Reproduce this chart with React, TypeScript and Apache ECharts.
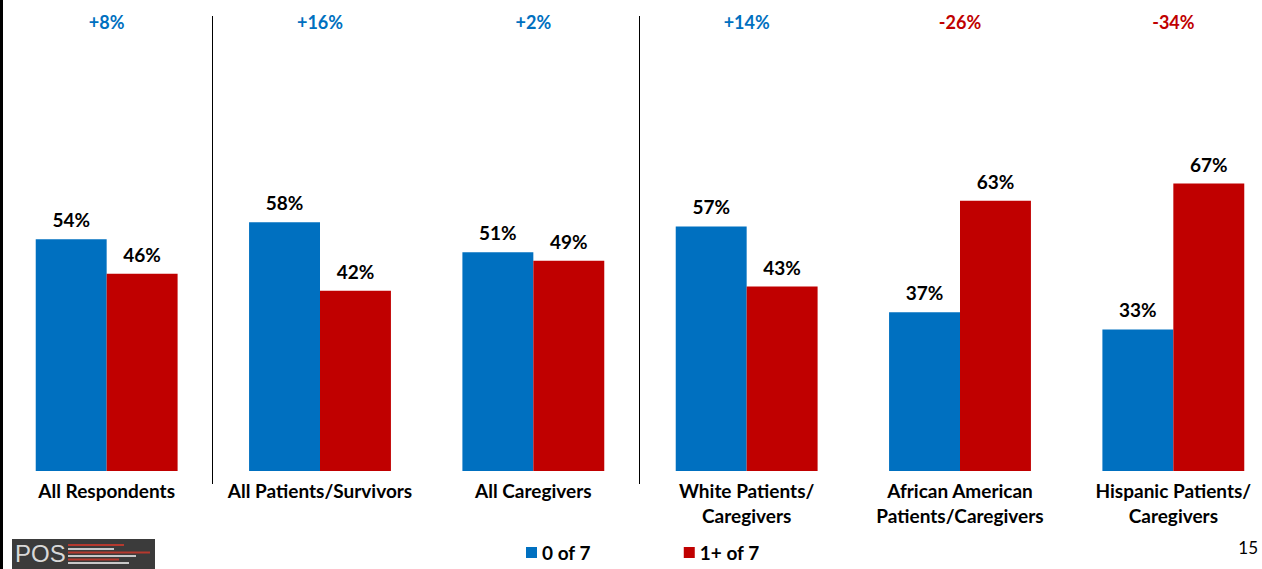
import React, { useEffect, useRef } from "react";
import * as echarts from "echarts";

const categories = [
  "All Respondents",
  "All Patients/Survivors",
  "All Caregivers",
  "White Patients/\nCaregivers",
  "African American\nPatients/Caregivers",
  "Hispanic Patients/\nCaregivers",
];
const zeroOf7 = [54, 58, 51, 57, 37, 33];
const onePlusOf7 = [46, 42, 49, 43, 63, 67];
const differences = ["+8%", "+16%", "+2%", "+14%", "-26%", "-34%"];
const dividerAfter = [0, 2];
const seriesNames = ["0 of 7", "1+ of 7"];
const pageNumber = "15";

const BLUE = "#0070C0";
const RED = "#C00000";
const FONT = "Lato, 'Noto Sans', sans-serif";

export default function App() {
  const ref = useRef<HTMLDivElement>(null);
  useEffect(() => {
    const chart = echarts.init(ref.current!, null, { renderer: "svg" });
    const labelStyle = {
      show: true,
      position: "top" as const,
      distance: 10,
      formatter: "{c}%",
      fontFamily: FONT,
      fontWeight: "bold" as const,
      fontSize: 19,
      color: "#000",
    };
    chart.setOption({
      animation: false,
      textStyle: { fontFamily: FONT },
      grid: { left: 0, top: 42, width: 1280, height: 429, containLabel: false },
      legend: {
        left: 521,
        top: 538,
        itemWidth: 11,
        itemHeight: 11,
        itemGap: 93,
        icon: "rect",
        textStyle: { fontFamily: FONT, fontWeight: "bold", fontSize: 19, color: "#000" },
        data: seriesNames,
      },
      xAxis: [
        {
          type: "category",
          data: categories,
          axisLine: { show: false },
          axisTick: { show: false },
          axisLabel: {
            interval: 0,
            margin: 7,
            fontFamily: FONT,
            fontWeight: "bold",
            fontSize: 19,
            color: "#000",
            lineHeight: 25,
          },
        },
        {
          type: "category",
          position: "top",
          data: differences,
          axisLine: { show: false },
          axisTick: { show: false },
          axisLabel: {
            interval: 0,
            margin: 11,
            fontFamily: FONT,
            fontWeight: "bold",
            fontSize: 18,
            formatter: (v: string) => (v.startsWith("-") ? `{neg|${v}}` : `{pos|${v}}`),
            rich: {
              pos: { color: BLUE, fontFamily: FONT, fontWeight: "bold", fontSize: 18 },
              neg: { color: RED, fontFamily: FONT, fontWeight: "bold", fontSize: 18 },
            },
          },
        },
      ],
      yAxis: { type: "value", min: 0, max: 100, show: false, splitLine: { show: false } },
      series: [
        {
          name: seriesNames[0],
          type: "bar",
          data: zeroOf7,
          itemStyle: { color: BLUE },
          barGap: "0%",
          barCategoryGap: "33.5%",
          label: labelStyle,
        },
        {
          name: seriesNames[1],
          type: "bar",
          data: onePlusOf7,
          itemStyle: { color: RED },
          barGap: "0%",
          barCategoryGap: "33.5%",
          label: labelStyle,
        },
      ],
    });

    const c0 = chart.convertToPixel({ xAxisIndex: 0 }, categories[0]) as number;
    const c1 = chart.convertToPixel({ xAxisIndex: 0 }, categories[1]) as number;
    const band = c1 - c0;
    const dividers = dividerAfter.map((i) => {
      const x = Math.round((chart.convertToPixel({ xAxisIndex: 0 }, categories[i]) as number) + band / 2) - 0.5;
      return { type: "line", shape: { x1: x, y1: 16, x2: x, y2: 484 }, style: { stroke: "#000", lineWidth: 1 } };
    });

    const logoLines = [
      { y: 545, x2: 124, c: "#b5392e" },
      { y: 549, x2: 114, c: "#c8c8c8" },
      { y: 552.5, x2: 150, c: "#b5392e" },
      { y: 556, x2: 136, c: "#c8c8c8" },
      { y: 559.5, x2: 119, c: "#b5392e" },
      { y: 563, x2: 129, c: "#c8c8c8" },
    ].map((l) => ({
      type: "line",
      shape: { x1: 68, y1: l.y, x2: l.x2, y2: l.y },
      style: { stroke: l.c, lineWidth: 2 },
    }));

    chart.setOption({
      graphic: [
        { type: "rect", shape: { x: 0, y: 0, width: 3, height: 569 }, style: { fill: "#000" } },
        ...dividers,
        { type: "rect", shape: { x: 12, y: 539, width: 143, height: 30 }, style: { fill: "#3b3b3b" } },
        {
          type: "text",
          x: 15,
          y: 541,
          style: { text: "POS", fill: "#d8d8d8", font: "24px 'Liberation Sans', sans-serif" },
        },
        ...logoLines,
        {
          type: "text",
          x: 1258,
          y: 539,
          style: { text: pageNumber, fill: "#000", font: "17px " + FONT, textAlign: "right" },
        },
      ],
    });
    return () => chart.dispose();
  }, []);
  return (
    <div style={{ position: "fixed", left: 0, top: 0, width: 1262, height: 569, overflow: "hidden", background: "#fff" }}>
      <div ref={ref} style={{ width: 1280, height: 569 }} />
    </div>
  );
}
